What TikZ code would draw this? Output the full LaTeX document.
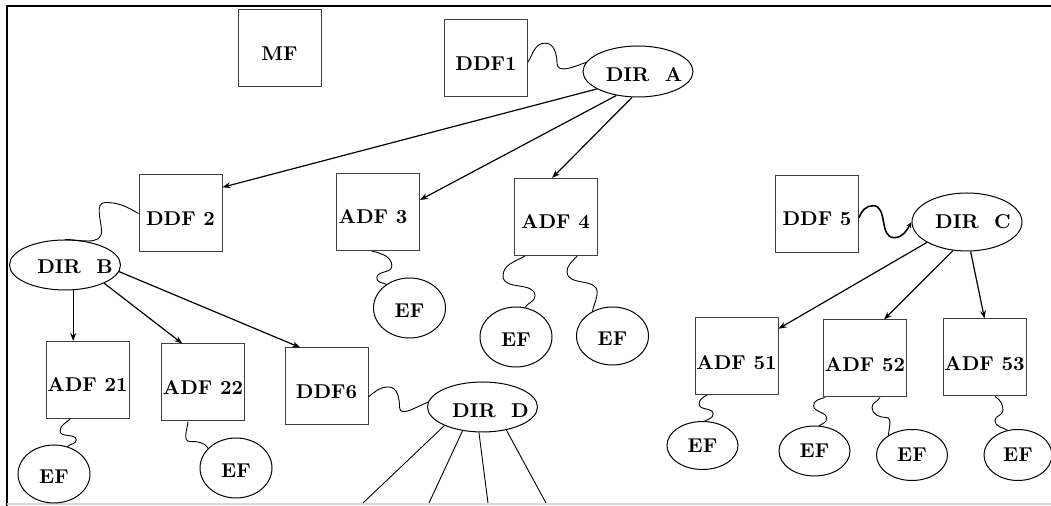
\documentclass[tikz,border=0pt]{standalone}
\usepackage{tikz}
\usetikzlibrary{positioning, arrows.meta, shapes.geometric, calc}

\begin{document}
\begin{tikzpicture}[x=0.5pt, y=0.5pt,
    box/.style={draw=black!75, line width=0.5pt, minimum width=41.5pt, minimum height=38.5pt, inner sep=0pt, text height=12pt, text depth=0pt, font=\bfseries},
    dir/.style={draw, ellipse, line width=0.5pt, minimum width=55pt, minimum height=25.5pt, inner sep=0pt},
    dirtext/.style={inner sep=0pt, font=\bfseries},
    ef/.style={draw, ellipse, line width=0.5pt, minimum width=36pt, minimum height=30pt, inner sep=0pt, text height=10pt, text depth=0pt, font=\bfseries},
    efsmall/.style={ef, minimum width=35.5pt, minimum height=25pt, text height=7pt},
    arr/.style={-{Stealth[length=4pt,width=3pt]}, line width=0.6pt},
    wire/.style={line width=0.45pt}]
    \useasboundingbox (0,0) rectangle (1051,-506);
    % Frame
    \draw[line width=1pt] (7,-506) -- (7,-6.5) -- (1051,-6.5);
    \draw[gray!30, line width=1pt] (7,-504) -- (1051,-504);
    % Top level
    \node[box] (mf) at (279.5,-48.5) {MF};
    \node[box] (ddf1) at (486,-58.5) {DDF1};
    \node[dir, label={[dirtext, xshift=3pt, yshift=-1.5pt]center:DIR~~A}] (dira) at (638,-71.5) {};
    % Second level
    \node[box] (ddf2) at (180.5,-213.5) {DDF 2};
    \node[box] (adf3) at (378,-212) {\hspace{-5pt}ADF 3};
    \node[box] (adf4) at (555.5,-217) {ADF 4};
    \node[box] (ddf5) at (817,-214) {DDF 5};
    \node[dir, minimum height=29pt, label={[dirtext, xshift=3pt]center:DIR~~C}] (dirc) at (967,-222) {};
    \node[dir, minimum width=55.5pt, minimum height=25pt, label={[dirtext, xshift=5pt, yshift=-1pt]center:DIR~~B}] (dirb) at (65,-265) {};
    % Third level
    \node[box] (adf21) at (87.5,-380) {ADF 21};
    \node[box] (adf22) at (203,-382.5) {ADF 22};
    \node[box] (ddf6) at (326.5,-386.5) {DDF6};
    \node[dir, minimum height=25pt, label={[dirtext, xshift=4pt, yshift=-2pt]center:DIR~~D}] (dird) at (482.5,-407) {};
    \node[box, text height=14pt] (adf51) at (736.5,-356) {ADF 51};
    \node[box, text height=13pt] (adf52) at (865,-358.5) {ADF 52};
    \node[box, text height=13pt] (adf53) at (984.5,-357.5) {ADF 53};
    % Elementary files
    \node[ef] (ef3) at (409.5,-308) {EF};
    \node[ef] (ef4a) at (516,-337) {EF};
    \node[ef, minimum height=29pt] (ef4b) at (612.5,-336) {EF};
    \node[ef, minimum height=29pt] (ef21) at (54,-474) {EF};
    \node[ef] (ef22) at (236,-468) {EF};
    \node[efsmall, minimum height=24pt] (ef51) at (702.5,-445.5) {EF};
    \node[efsmall] (ef52a) at (814.5,-451) {EF};
    \node[efsmall, minimum height=25.5pt] (ef52b) at (912,-455) {EF};
    \node[efsmall, minimum width=34pt, minimum height=25.5pt] (ef53) at (1018,-455) {EF};
    % Arrows from the directories
    \draw[arr] (dira.203) -- (ddf2.32);
    \draw[arr] (dira.228) -- (adf3.16);
    \draw[arr] (dira.257) -- (adf4.95);
    \draw[arr] (dirb.-72) -- (dirb.-72 |- adf21.north);
    \draw[arr] (dirb.-25) -- (adf22.118);
    \draw[arr] (dirb.-7) -- (ddf6.124);
    \draw[arr] (dirc.207) -- (adf51.33);
    \draw[arr] (dirc.244) -- (adf52.64);
    \draw[arr] (dirc.277) -- (adf53.north);
    % Wavy links
    \draw[wire] (ddf1.-5) to[out=60,in=180] ++(17,19) to[out=0,in=90] ++(12,-20) to[out=-90,in=200] (dira.170);
    \draw[wire] (ddf2.west) to[out=150,in=0] ++(-33,11) to[out=180,in=90] ++(-4,-29) to[out=-90,in=0] (dirb.north);
    \draw[wire] (adf3.-99) to[out=-15,in=90] ++(20,-15) to[out=-90,in=90] ++(-15,-12) to[out=-90,in=160] (ef3.134);
    \draw[wire] (adf4.-128) to[out=-150,in=90] ++(-22,-20) to[out=-90,in=90] ++(32,-20) to[out=-90,in=60] (ef4a.73);
    \draw[wire] (adf4.-61) to[out=-130,in=90] ++(-10,-16) to[out=-90,in=90] ++(30,-20) to[out=-90,in=80] (ef4b.129);
    \draw[wire] (adf21.-114) to[out=-135,in=90] ++(-10,-12) to[out=-90,in=90] ++(16,-9) to[out=-90,in=45] (ef21.64);
    \draw[wire] (adf22.-111) to[out=-95,in=180] ++(2,-20) to[out=0,in=120] (ef22.145);
    \draw[wire] (ddf6.-14) to[out=40,in=180] ++(20,10) to[out=0,in=90] ++(11,-20) to[out=-90,in=200] (dird.175);
    \draw[wire, line width=0.8pt, -{Stealth[length=3pt,width=2.5pt]}] (ddf5.-5) to[out=70,in=180] ++(14,12) to[out=0,in=180] ++(21,-32) to[out=0,in=-120] (dirc.west);
    \draw[wire] (adf51.-127) to[out=-150,in=90] ++(-8,-9) to[out=-90,in=90] ++(14,-10) to[out=-90,in=30] (ef51.85);
    \draw[wire] (adf52.-136) to[out=-160,in=90] ++(-11,-8) to[out=-90,in=90] ++(13,-13) to[out=-90,in=30] (ef52a.80);
    \draw[wire] (adf52.-69) to[out=-120,in=90] ++(-8,-10) to[out=-90,in=180] ++(14,-10) to[out=0,in=90] (ef52b.140);
    \draw[wire] (adf53.-75) to[out=-30,in=90] ++(8,-14) to[out=-90,in=90] ++(-8,-10) to[out=-90,in=150] (ef53.113);
    % Branches of DIR D
    \foreach \x [count=\i] in {363,429,488,546}
        \coordinate (dend\i) at (\x,-503);
    \foreach \a [count=\i] in {206,230,262,316}
        \draw[wire] (dird.\a) -- (dend\i);
\end{tikzpicture}
\end{document}
